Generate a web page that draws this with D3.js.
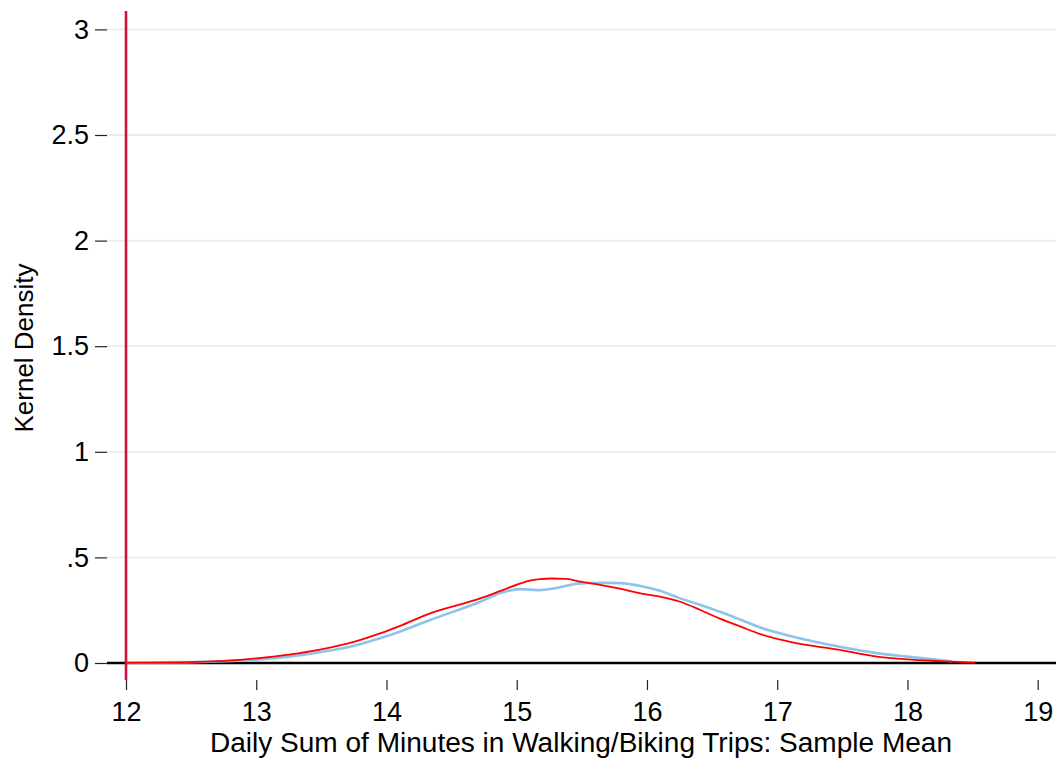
<!DOCTYPE html>
<html>
<head>
<meta charset="utf-8">
<script src="https://cdn.jsdelivr.net/npm/d3@7"></script>
<style>
  html, body { margin: 0; padding: 0; background: #ffffff; }
  svg { display: block; font-family: "Liberation Sans", Arial, sans-serif; }
</style>
</head>
<body>
<svg id="chart" width="1061" height="759"></svg>
<script>
// ---- data ----
const xTicks = [12, 13, 14, 15, 16, 17, 18, 19];
const yTicks = [0, 0.5, 1, 1.5, 2, 2.5, 3];
const yTickLabels = ["0", ".5", "1", "1.5", "2", "2.5", "3"];
const xTitle = "Daily Sum of Minutes in Walking/Biking Trips: Sample Mean";
const yTitle = "Kernel Density";
const refLineX = 12;

const redX = [12.0, 12.5, 12.75, 13.0, 13.25, 13.5, 13.75, 13.95, 14.1, 14.335, 14.72, 14.87, 15.03, 15.1, 15.18, 15.26, 15.385, 15.49, 15.64, 15.79, 15.95, 16.1, 16.255, 16.41, 16.56, 16.72, 16.87, 17.1, 17.48, 17.74, 18.0, 18.25, 18.52];
const redY = [0.001, 0.004, 0.01, 0.022, 0.04, 0.065, 0.1, 0.14, 0.175, 0.235, 0.306, 0.34, 0.377, 0.39, 0.397, 0.4, 0.398, 0.385, 0.37, 0.352, 0.33, 0.314, 0.29, 0.251, 0.21, 0.172, 0.137, 0.1, 0.062, 0.033, 0.017, 0.009, 0.002];

const blueX = [12.0, 12.5, 12.75, 13.0, 13.25, 13.5, 13.75, 13.95, 14.1, 14.335, 14.72, 14.87, 15.03, 15.18, 15.28, 15.49, 15.64, 15.79, 15.95, 16.1, 16.255, 16.41, 16.56, 16.72, 16.87, 17.1, 17.48, 17.74, 18.0, 18.34];
const blueY = [0.002, 0.004, 0.008, 0.016, 0.03, 0.052, 0.082, 0.117, 0.148, 0.204, 0.29, 0.33, 0.35, 0.345, 0.353, 0.377, 0.38, 0.378, 0.365, 0.342, 0.306, 0.275, 0.243, 0.205, 0.168, 0.128, 0.077, 0.049, 0.03, 0.008];

// ---- layout ----
const svg = d3.select("#chart");
const plotLeft = 107, plotRight = 1056, plotTop = 11, plotBottom = 680;
const x = d3.scaleLinear().domain([12, 19]).range([126, 1037.7]);
const y = d3.scaleLinear().domain([0, 3]).range([663, 29.4]);
const fontFam = "'Liberation Sans', Arial, sans-serif";

// gridlines
svg.append("g").selectAll("line").data(yTicks.filter(d => d > 0)).join("line")
  .attr("x1", plotLeft).attr("x2", plotRight)
  .attr("y1", d => y(d)).attr("y2", d => y(d))
  .attr("stroke", "#e6eef2").attr("stroke-width", 1.8);

// y axis (ticks + labels, no domain line)
const yAxis = d3.axisLeft(y).tickValues(yTicks)
  .tickFormat((d, i) => yTickLabels[i]).tickSizeOuter(0).tickSize(12).tickPadding(6);
const gy = svg.append("g").attr("transform", `translate(${plotLeft},0)`).call(yAxis);
gy.select(".domain").remove();
gy.selectAll(".tick line").attr("stroke", "#222").attr("stroke-width", 1.2);
gy.selectAll(".tick text").attr("font-size", 27).attr("fill", "#000")
  .attr("font-family", fontFam);

// x axis (ticks + labels)
const xAxis = d3.axisBottom(x).tickValues(xTicks).tickFormat(d3.format("d"))
  .tickSizeOuter(0).tickSize(10).tickPadding(12);
const gx = svg.append("g").attr("transform", `translate(0,${plotBottom})`).call(xAxis);
gx.select(".domain").remove();
gx.selectAll(".tick line").attr("stroke", "#222").attr("stroke-width", 1.2);
gx.selectAll(".tick text").attr("font-size", 27).attr("fill", "#000")
  .attr("font-family", fontFam);

// horizontal black line at y = 0
svg.append("line")
  .attr("x1", plotLeft).attr("x2", plotRight)
  .attr("y1", y(0)).attr("y2", y(0))
  .attr("stroke", "#000").attr("stroke-width", 2.6);

// curves
const line = d3.line().x(d => x(d[0])).y(d => y(d[1])).curve(d3.curveMonotoneX);
svg.append("path").datum(blueX.map((v, i) => [v, blueY[i]]))
  .attr("d", line).attr("fill", "none")
  .attr("stroke", "#8ec4ea").attr("stroke-width", 2.6);
svg.append("path").datum(redX.map((v, i) => [v, redY[i]]))
  .attr("d", line).attr("fill", "none")
  .attr("stroke", "#ff0000").attr("stroke-width", 1.8);

// vertical reference line
svg.append("line")
  .attr("x1", x(refLineX)).attr("x2", x(refLineX))
  .attr("y1", plotTop).attr("y2", plotBottom)
  .attr("stroke", "#d4103d").attr("stroke-width", 2.6);

// titles
svg.append("text")
  .attr("x", 581).attr("y", 752)
  .attr("text-anchor", "middle").attr("font-size", 27).attr("fill", "#000")
  .attr("textLength", 742).attr("lengthAdjust", "spacingAndGlyphs")
  .text(xTitle);
svg.append("text")
  .attr("transform", `translate(33,348) rotate(-90)`)
  .attr("text-anchor", "middle").attr("font-size", 26).attr("fill", "#000")
  .text(yTitle);
</script>
</body>
</html>
